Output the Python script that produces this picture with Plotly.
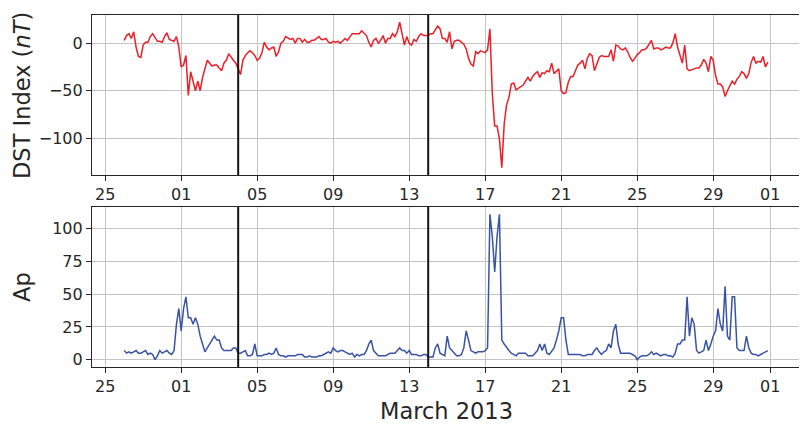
import pandas as pd
import plotly.graph_objects as go

# ---------------- data (3-hourly, starting 2013-02-26 00:00) ----------------
start_time = "2013-02-26 00:00"

dst_values = [
    3, 8, 10, 5, 12, -4, -14, -15, -2, 1,
    1, 7, 10, 6, 2, 2, 1, 7, 11, 4,
    3, 2, 7, -4, -25, -23, -13, -55, -30, -41,
    -50, -40, -50, -36, -26, -18, -21, -24, -23, -23,
    -26, -29, -21, -18, -11, -15, -18, -21, -27, -33,
    -18, -13, -10, -8, -10, -13, -18, -16, -10, 1,
    -4, -7,
    -5, -4, -14, -9, 0, 2, 7, 5, 4, 5,
    0, 5, 5, 1, 4, 1, 1, 3, 3, 5,
    7, 4, 4, 5, 1, 0, 2, 1, 2, 0,
    2, 5, 3, 7, 10, 10, 10, 10, 13, 10,
    8, 1, -4, 3, 5, 0, 3, 8, 0, 5,
    5, 10, 7, 12, 22, 10, -2, 7, 0, -2,
    4, 2, 7, 10, 8, 8, 8, 10, 10, 14,
    18, 15, 5, 5,
    1, 12, -6, 2, 3, 3, 1, -1, -6, -16,
    -22, -24, -9, -11, -8, -9, -10, -7, 15, -53,
    -87, -87, -101, -131, -85, -65, -57, -43, -42, -49,
    -47, -45, -44, -40, -36, -40, -35, -32, -30, -36,
    -31, -32, -29, -30, -21, -32, -30, -27, -50, -53,
    -52, -41, -35, -35, -29, -23, -21, -18, -27, -16,
    -11, -13, -29, -22, -15, -13, -14, -14, -14, -7,
    -19, -2, -3,
    -6, -7, -5, -9, -15, -19, -16, -12, -10, -7,
    -7, -5, -1, 3, -6, -5, -5, -7, -6, -4,
    -5, -5, 0, 10, -4, -14, -21, -2, -27, -29,
    -28, -27, -26, -26, -23, -17, -21, -30, -14, -18,
    -34, -43, -43, -46, -56, -50, -45, -40, -43, -38,
    -35, -30, -32, -37, -32, -20, -14, -21, -19, -20,
    -14, -25, -20,
]

ap_values = [
    7, 5, 6, 5, 6, 7, 5, 5, 6, 7,
    4, 5, 4, 0, 3, 7, 5, 6, 7, 5,
    4, 7, 27, 39, 22, 39, 48, 32, 32, 27,
    32, 27, 18, 12, 6, 9, 12, 15, 18, 15,
    15, 9, 7, 7, 7, 7, 9, 9, 5, 5,
    6, 7, 3, 3, 4, 12, 3, 3, 3, 4,
    4, 5,
    4, 5, 9, 4, 3, 3, 2, 3, 3, 3,
    3, 4, 4, 4, 2, 2, 3, 2, 2, 2,
    3, 3, 4, 5, 6, 5, 9, 7, 6, 7,
    7, 6, 5, 4, 5, 2, 4, 3, 4, 4,
    7, 12, 15, 7, 5, 3, 3, 3, 3, 4,
    5, 5, 5, 7, 9, 7, 7, 5, 7, 4,
    4, 4, 3, 3, 4, 4, 2, 2, 2, 9,
    12, 5, 4, 3,
    18, 9, 7, 5, 3, 3, 4, 9, 22, 15,
    7, 6, 5, 6, 6, 6, 7, 9, 111, 94,
    67, 94, 111, 15, 12, 9, 7, 5, 4, 3,
    5, 5, 5, 5, 3, 3, 3, 5, 7, 12,
    7, 12, 5, 4, 7, 9, 15, 22, 32, 32,
    15, 4, 4, 4, 4, 4, 4, 3, 3, 4,
    4, 4, 7, 9, 6, 4, 6, 7, 12, 9,
    22, 27, 12,
    5, 5, 5, 5, 5, 4, 3, 0, 2, 3,
    3, 3, 4, 6, 4, 5, 4, 3, 4, 4,
    3, 3, 2, 5, 12, 12, 15, 15, 48, 18,
    32, 27, 7, 5, 6, 7, 15, 7, 12, 18,
    22, 39, 27, 22, 56, 18, 15, 48, 48, 9,
    7, 7, 7, 18, 9, 5, 4, 4, 3, 4,
    5, 6, 7,
]

event_dates = ["2013-03-04 00:00", "2013-03-14 00:00"]

tick_dates = ["2013-02-25", "2013-03-01", "2013-03-05", "2013-03-09", "2013-03-13",
              "2013-03-17", "2013-03-21", "2013-03-25", "2013-03-29", "2013-04-01"]
tick_labels = ["25", "01", "05", "09", "13", "17", "21", "25", "29", "01"]

dst_ticks = [-100, -50, 0]
ap_ticks = [0, 25, 50, 75, 100]

# ---------------- figure ----------------
times = pd.date_range(start_time, periods=len(dst_values), freq="3h")
ap_times = pd.date_range(start_time, periods=len(ap_values), freq="3h")

FONT = "DejaVu Sans"
INK = "#262626"
GRID = "#c4c4c4"

fig = go.Figure()
fig.add_trace(go.Scatter(x=times, y=dst_values, mode="lines",
                         line=dict(color="#ec1e28", width=1.5),
                         xaxis="x", yaxis="y", showlegend=False))
fig.add_trace(go.Scatter(x=ap_times, y=ap_values, mode="lines",
                         line=dict(color="#3853a6", width=1.5),
                         xaxis="x2", yaxis="y2", showlegend=False))

# x range with 5% margins like matplotlib
t0 = times[0]
t1 = max(times[-1], ap_times[-1])
pad = (t1 - t0) * 0.05
xr = [t0 - pad, t1 + pad]

dmin, dmax = min(dst_values), max(dst_values)
dpad = (dmax - dmin) * 0.05
amin, amax = min(ap_values), max(ap_values)
apad = (amax - amin) * 0.05

common_x = dict(range=xr, tickvals=tick_dates, ticktext=tick_labels,
                showgrid=True, gridcolor=GRID, gridwidth=1,
                ticks="outside", ticklen=5, tickwidth=1.25, tickcolor=INK,
                showline=True, mirror=True, linecolor=INK, linewidth=1.25,
                tickfont=dict(family=FONT, size=16, color=INK), zeroline=False,
                automargin=False)
common_y = dict(showgrid=True, gridcolor=GRID, gridwidth=1,
                ticks="outside", ticklen=5, tickwidth=1.25, tickcolor=INK,
                showline=True, mirror=True, linecolor=INK, linewidth=1.25,
                tickfont=dict(family=FONT, size=16, color=INK), zeroline=False,
                automargin=False)

# the page body adds an 8px offset; margins compensate for it
fig.update_layout(
    width=807, height=434,
    margin=dict(l=84, r=15, t=7, b=75, autoexpand=False),
    paper_bgcolor="white", plot_bgcolor="white",
    font=dict(family=FONT, color=INK),
    xaxis=dict(domain=[0, 1], anchor="y", **common_x),
    yaxis=dict(domain=[0.5455, 1], anchor="x", range=[dmin - dpad, dmax + dpad],
               tickvals=dst_ticks, **common_y),
    xaxis2=dict(domain=[0, 1], anchor="y2", **common_x),
    yaxis2=dict(domain=[0, 0.4545], anchor="x2", range=[amin - apad, amax + apad],
                tickvals=ap_ticks, **common_y),
)

for d in event_dates:
    fig.add_shape(type="line", x0=d, x1=d, y0=0, y1=1, xref="x", yref="y domain",
                  line=dict(color="#141414", width=2))
    fig.add_shape(type="line", x0=d, x1=d, y0=0, y1=1, xref="x2", yref="y2 domain",
                  line=dict(color="#141414", width=2))

fig.add_annotation(text="DST Index (<i>nT</i>)", textangle=-90, showarrow=False,
                   xref="paper", yref="y domain", x=-0.0777, y=0.5,
                   xanchor="right", yanchor="middle",
                   font=dict(family=FONT, size=22.5, color=INK))
fig.add_annotation(text="Ap", textangle=-90, showarrow=False,
                   xref="paper", yref="y2 domain", x=-0.0777, y=0.5,
                   xanchor="right", yanchor="middle",
                   font=dict(family=FONT, size=22.5, color=INK))
fig.add_annotation(text="March 2013", showarrow=False,
                   xref="paper", yref="paper", x=0.5, y=-0.125,
                   xanchor="center", yanchor="middle",
                   font=dict(family=FONT, size=22.5, color=INK))

fig.write_html("out.html")
